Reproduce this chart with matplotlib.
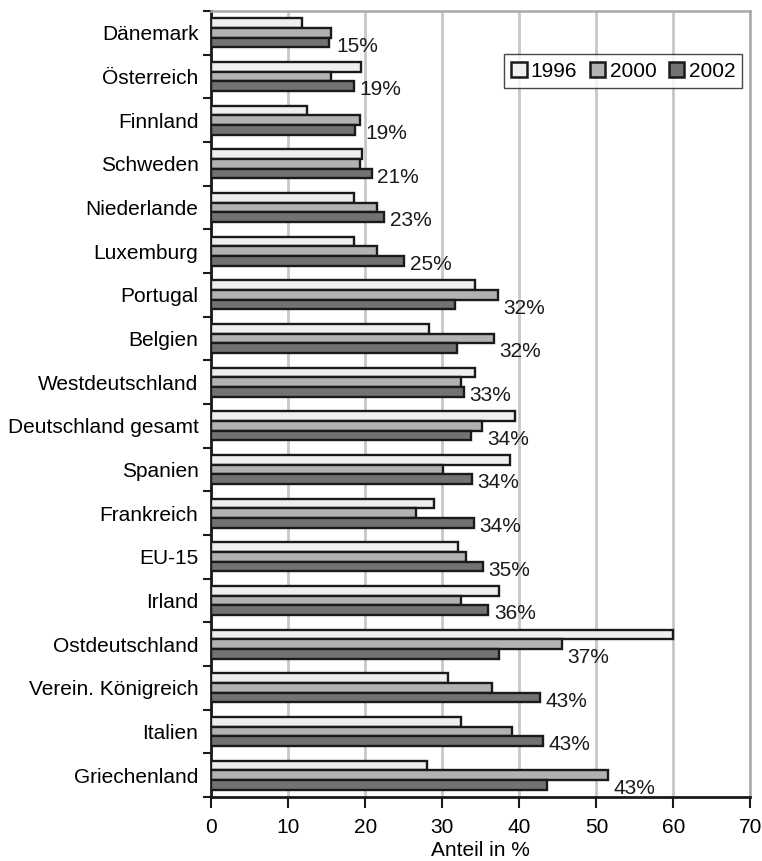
import matplotlib

matplotlib.use("Agg")

import matplotlib.pyplot as plt
import numpy as np

plt.rcParams["font.family"] = ["Liberation Sans", "DejaVu Sans"]

countries = ["Dänemark", "Österreich", "Finnland", "Schweden", "Niederlande",
             "Luxemburg", "Portugal", "Belgien", "Westdeutschland",
             "Deutschland gesamt", "Spanien", "Frankreich", "EU-15", "Irland",
             "Ostdeutschland", "Verein. Königreich", "Italien", "Griechenland"]
v1996 = [11.8, 19.4, 12.5, 19.6, 18.6, 18.6, 34.2, 28.3, 34.2, 39.5, 38.8,
         28.9, 32.0, 37.4, 59.9, 30.8, 32.4, 28.0]
v2000 = [15.6, 15.6, 19.3, 19.3, 21.5, 21.5, 37.2, 36.7, 32.4, 35.1, 30.1,
         26.6, 33.1, 32.4, 45.5, 36.5, 39.0, 51.5]
v2002 = [15.3, 18.5, 18.7, 20.9, 22.5, 25.1, 31.7, 31.9, 32.8, 33.7, 33.9,
         34.1, 35.3, 36.0, 37.4, 42.7, 43.1, 43.6]
labels = ["15%", "19%", "19%", "21%", "23%", "25%", "32%", "32%", "33%",
          "34%", "34%", "34%", "35%", "36%", "37%", "43%", "43%", "43%"]
years = ["1996", "2000", "2002"]
colors = ["#efefef", "#b2b2b2", "#727272"]

FS = 15

fig = plt.figure(figsize=(7.62, 8.61), dpi=100)
ax = fig.add_axes([0.2769, 0.0743, 0.7080, 0.9129])

y = np.arange(len(countries))
h = 0.222
for k, (vals, yr, c) in enumerate(zip((v1996, v2000, v2002), years, colors)):
    ax.barh(y + (k - 1) * h, vals, height=h, color=c, edgecolor="#1a1a1a",
            linewidth=1.7, label=yr, zorder=3)

for i, lab in enumerate(labels):
    xpos = max(v2000[i], v2002[i]) + 0.7
    ax.text(xpos, y[i] + h + 0.08, lab, ha="left", va="center",
            fontsize=FS, color="#1a1a1a", zorder=4)

ax.set_xlim(0, 70)
ax.set_ylim(len(countries) - 0.5, -0.5)
ax.set_xticks(np.arange(0, 71, 10))
ax.set_yticks(y)
ax.set_yticklabels(countries)
ax.set_yticks(np.arange(-0.5, len(countries), 1), minor=True)
ax.tick_params(axis="y", which="major", length=0, pad=9, labelsize=FS)
ax.tick_params(axis="y", which="minor", length=6, width=1.5, color="#1a1a1a")
ax.tick_params(axis="x", length=8, width=1.5, color="#1a1a1a", labelsize=FS,
               pad=7)
ax.xaxis.grid(True, color="#c8c8c8", linewidth=2, zorder=0)
ax.set_axisbelow(True)

for side in ("left", "bottom"):
    ax.spines[side].set_color("#1a1a1a")
    ax.spines[side].set_linewidth(2)
for side in ("top", "right"):
    ax.spines[side].set_color("#a8a8a8")
    ax.spines[side].set_linewidth(1.8)

ax.set_xlabel("Anteil in %", fontsize=FS, labelpad=3)

leg = ax.legend(loc="upper right", bbox_to_anchor=(0.985, 0.945), ncol=3,
                fontsize=FS, frameon=True, fancybox=False, handlelength=0.75,
                handleheight=0.75, handletextpad=0.2, columnspacing=0.6,
                borderpad=0.35, borderaxespad=0)
leg.get_frame().set_edgecolor("#1a1a1a")
leg.get_frame().set_linewidth(1.0)
for p in leg.get_patches():
    p.set_linewidth(1.8)

fig.savefig("out.png", dpi=100)
